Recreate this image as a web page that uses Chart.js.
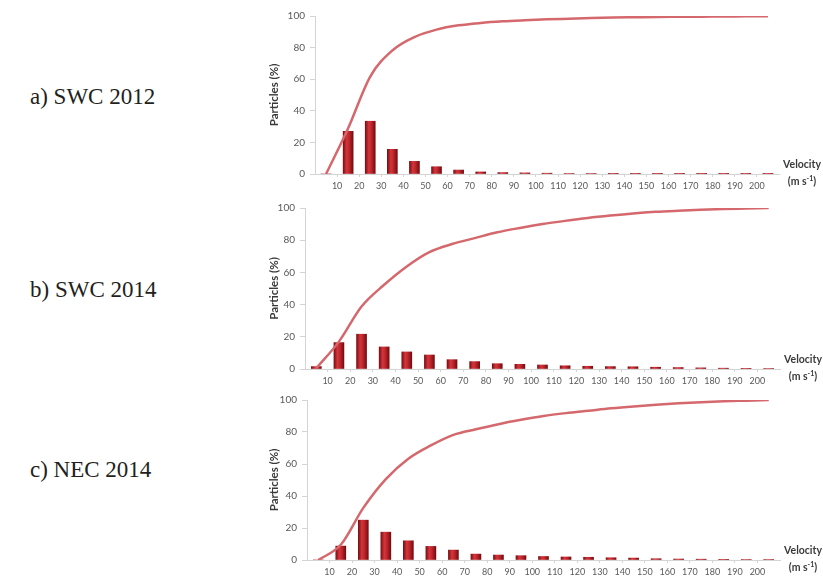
<!DOCTYPE html>
<html>
<head>
<meta charset="utf-8">
<script src="https://cdn.jsdelivr.net/npm/chart.js@4.4.1/dist/chart.umd.min.js"></script>
<style>
  html, body { margin: 0; padding: 0; background: #fff; }
  body { width: 823px; height: 579px; position: relative; overflow: hidden; }
  canvas { position: absolute; }
  .panel-label {
    position: absolute; left: 30px;
    font-family: "Liberation Serif", "DejaVu Serif", serif;
    font-size: 23px; line-height: 1; color: #231f20; white-space: nowrap;
  }
</style>
</head>
<body>
<div class="panel-label" style="top:85px">a) SWC 2012</div>
<div class="panel-label" style="top:278px">b) SWC 2014</div>
<div class="panel-label" style="top:458px">c) NEC 2014</div>
<canvas id="swc2012"></canvas>
<canvas id="swc2014"></canvas>
<canvas id="nec2014"></canvas>
<script>
// Velocity bins (m s-1): centre of each 10 m s-1 class
const binCentres = [5, 15, 25, 35, 45, 55, 65, 75, 85, 95, 105, 115, 125, 135, 145, 155, 165, 175, 185, 195, 205];
// Class boundaries shown as axis labels
const velocityTicks = [10, 20, 30, 40, 50, 60, 70, 80, 90, 100, 110, 120, 130, 140, 150, 160, 170, 180, 190, 200];
const percentTicks = [0, 20, 40, 60, 80, 100];

// a) SWC 2012 – share of particles per class and cumulative share (%)
const swc2012Share = [0, 27.0, 33.4, 15.6, 8.0, 4.6, 2.5, 1.3, 0.9, 0.7, 0.5, 0.3, 0.3, 0.2, 0.15, 0.1, 0.1, 0.05, 0.05, 0.05, 0.05];
const swc2012Cumulative = [0, 29, 61.7, 78.2, 86.7, 91.4, 94.1, 95.6, 96.6, 97.3, 97.9, 98.3, 98.7, 99.0, 99.2, 99.4, 99.5, 99.6, 99.7, 99.8, 99.9];

// b) SWC 2014
const swc2014Share = [1.5, 16.4, 21.6, 13.7, 10.6, 8.7, 5.8, 4.6, 3.3, 2.9, 2.5, 2.0, 1.7, 1.5, 1.4, 1.1, 0.9, 0.7, 0.5, 0.4, 0.3];
const swc2014Cumulative = [0.5, 17, 38.8, 52.3, 63.7, 72.6, 77.6, 81.3, 84.9, 87.6, 90.0, 92.0, 93.8, 95.3, 96.6, 97.6, 98.3, 98.9, 99.4, 99.7, 100];

// c) NEC 2014
const nec2014Share = [0, 8.7, 24.9, 17.4, 12.0, 8.5, 6.2, 3.7, 3.1, 2.7, 2.2, 1.9, 1.7, 1.4, 1.2, 0.8, 0.6, 0.5, 0.4, 0.3, 0.3];
const nec2014Cumulative = [0, 9.5, 32.6, 50.6, 63.3, 71.6, 78.2, 81.7, 84.9, 87.6, 90.0, 91.8, 93.3, 94.8, 96.0, 97.0, 97.9, 98.6, 99.2, 99.6, 100];

const TEXT_FONT = 'Lato, "Open Sans", "Liberation Sans", sans-serif';
const AXIS_COLOR = '#d4d4d4';

// Axis name to the right of the velocity axis, with a superscript exponent
const velocityNamePlugin = {
  id: 'velocityName',
  afterDraw(chart) {
    const { ctx, chartArea } = chart;
    const cx = chartArea.right + 23;
    ctx.save();
    ctx.fillStyle = '#3a3a3a';
    ctx.textBaseline = 'middle';
    ctx.textAlign = 'center';
    ctx.font = 'bold 10.5px ' + TEXT_FONT;
    ctx.fillText('Velocity', cx, chartArea.bottom - 9);
    const a = '(m s', sup = '-1', b = ')';
    ctx.font = 'bold 10.5px ' + TEXT_FONT;
    const wa = ctx.measureText(a).width, wb = ctx.measureText(b).width;
    ctx.font = 'bold 7px ' + TEXT_FONT;
    const ws = ctx.measureText(sup).width;
    let x = cx - (wa + ws + wb) / 2;
    const y = chartArea.bottom + 8;
    ctx.textAlign = 'left';
    ctx.font = 'bold 10.5px ' + TEXT_FONT;
    ctx.fillText(a, x, y); x += wa;
    ctx.font = 'bold 7px ' + TEXT_FONT;
    ctx.fillText(sup, x, y - 3); x += ws;
    ctx.font = 'bold 10.5px ' + TEXT_FONT;
    ctx.fillText(b, x, y);
    ctx.restore();
  }
};

// Cylinder-like shading across each bar
function barFill(c) {
  const chart = c.chart;
  const xs = chart.scales && chart.scales.x;
  if (!xs || c.type !== 'data' || !chart.chartArea || !c.parsed) return '#b51e24';
  const px = xs.getPixelForValue(c.parsed.x);
  const g = chart.ctx.createLinearGradient(px - 5, 0, px + 5, 0);
  g.addColorStop(0, '#7c0f13');
  g.addColorStop(0.35, '#d3363c');
  g.addColorStop(0.6, '#c0262c');
  g.addColorStop(1, '#740c10');
  return g;
}

function drawPanel(id, area, shares, cumulative) {
  const canvas = document.getElementById(id);
  const canvasLeft = 250, canvasTop = area.top - 16;
  const width = 823 - canvasLeft;
  const height = area.bottom + 21 - canvasTop;
  canvas.width = width; canvas.height = height;
  canvas.style.left = canvasLeft + 'px';
  canvas.style.top = canvasTop + 'px';
  canvas.style.width = width + 'px';
  canvas.style.height = height + 'px';

  new Chart(canvas, {
    data: {
      datasets: [
        {
          type: 'line',
          label: 'Cumulative',
          data: binCentres.map((v, i) => ({ x: v, y: cumulative[i] })),
          borderColor: '#d4686d',
          borderWidth: 2.5,
          pointRadius: 0,
          cubicInterpolationMode: 'monotone',
          order: 0
        },
        {
          type: 'bar',
          label: 'Particles',
          data: binCentres.map((v, i) => ({ x: v, y: shares[i] })),
          backgroundColor: barFill,
          barThickness: 10,
          order: 1
        }
      ]
    },
    options: {
      responsive: false,
      animation: false,
      devicePixelRatio: 1,
      layout: { padding: { top: 16, left: 13, right: 823 - area.right, bottom: 0 } },
      plugins: { legend: { display: false }, tooltip: { enabled: false } },
      scales: {
        x: {
          type: 'linear',
          min: 0, max: 210,
          offset: false,
          afterBuildTicks: s => { s.ticks = velocityTicks.map(v => ({ value: v })); },
          afterFit: s => { s.height = 21; },
          grid: { display: true, offset: false, drawOnChartArea: false, drawTicks: true, tickLength: 3, color: AXIS_COLOR },
          border: { display: true, color: AXIS_COLOR, width: 1 },
          ticks: {
            autoSkip: false, maxRotation: 0, padding: 4,
            color: '#595959',
            font: { family: TEXT_FONT, size: 9 }
          }
        },
        y: {
          min: 0, max: 100,
          afterBuildTicks: s => { s.ticks = percentTicks.map(v => ({ value: v })); },
          afterFit: s => { s.width = area.left - 263; },
          grid: { display: true, drawOnChartArea: false, drawTicks: true, tickLength: 5, color: AXIS_COLOR },
          border: { display: true, color: AXIS_COLOR, width: 1 },
          ticks: {
            padding: 5,
            color: '#595959',
            font: { family: TEXT_FONT, size: 10 }
          },
          title: {
            display: true,
            text: 'Particles (%)',
            color: '#3a3a3a',
            font: { family: TEXT_FONT, size: 11.5, weight: 'bold' },
            padding: { top: 4, bottom: 4 }
          }
        }
      }
    },
    plugins: [velocityNamePlugin]
  });
}

drawPanel('swc2012', { left: 315, top: 16, right: 779, bottom: 174 }, swc2012Share, swc2012Cumulative);
drawPanel('swc2014', { left: 305, top: 208, right: 780, bottom: 369 }, swc2014Share, swc2014Cumulative);
drawPanel('nec2014', { left: 307, top: 400, right: 780, bottom: 560 }, nec2014Share, nec2014Cumulative);
</script>
</body>
</html>
